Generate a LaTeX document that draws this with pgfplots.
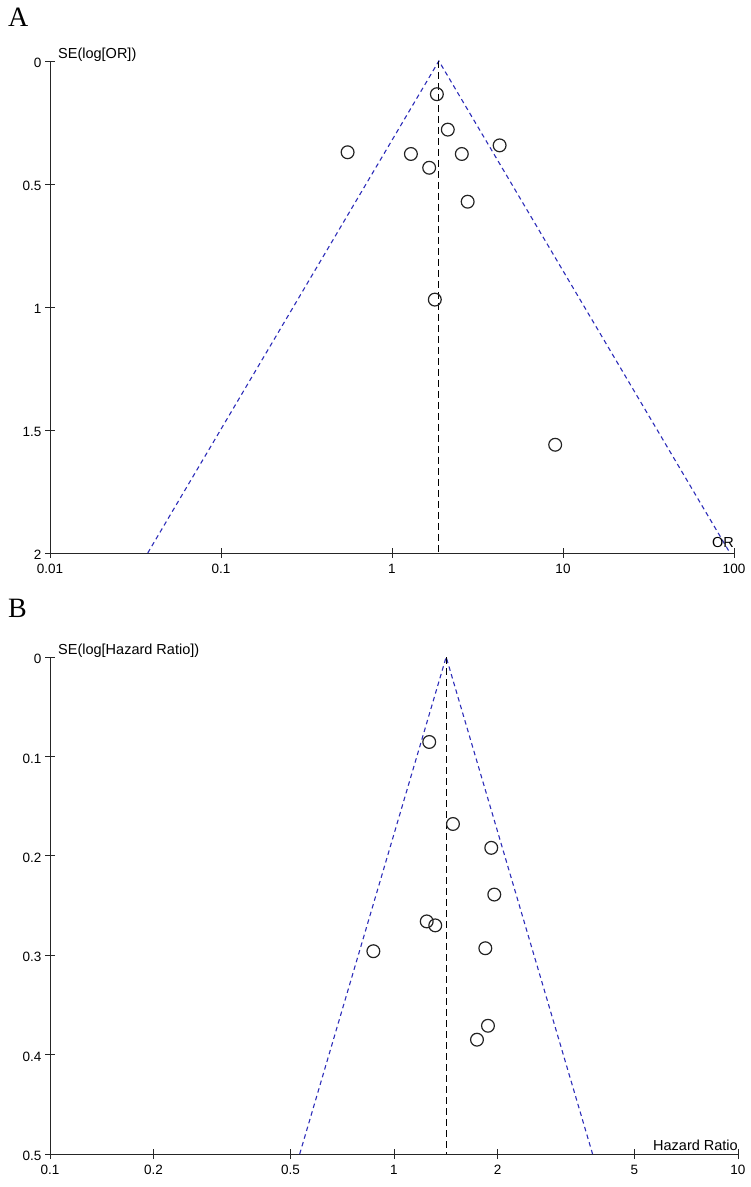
\documentclass[border=0pt]{standalone}
\usepackage{pgfplots}
\usepackage{pgfplotstable}
\pgfplotsset{compat=1.18}
\usepackage{fontspec}
\setmainfont{Liberation Sans}
\newfontfamily\seriffont{Liberation Serif}
\definecolor{funnel}{RGB}{45,45,185}
\definecolor{ptc}{RGB}{35,35,35}

\pgfplotstableread{
or se
1.83 0.135
2.12 0.279
0.55 0.371
1.29 0.378
2.56 0.378
4.26 0.343
1.65 0.434
2.77 0.572
1.78 0.970
9.00 1.560
}\dataA

\pgfplotstableread{
hr se
1.266 0.0855
1.484 0.168
1.918 0.192
1.957 0.239
1.245 0.266
1.318 0.270
0.871 0.296
1.843 0.293
1.876 0.371
1.743 0.385
}\dataB

\begin{document}
\begin{tikzpicture}[x=1pt,y=1pt]
\path[use as bounding box] (0,0) rectangle (751,1187);

\node[anchor=base west, inner sep=0, font=\seriffont\fontsize{28}{28}\selectfont] at (8,1160) {A};
\node[anchor=base west, inner sep=0, font=\seriffont\fontsize{28}{28}\selectfont] at (8,569) {B};

% Panel A
\begin{axis}[xmode=log, scale only axis, anchor=south west, clip=false,
  axis x line=bottom, axis y line=left,
  axis line style={-, line width=0.9pt, black!85},
  tick style={black!85, line width=0.9pt}, tick align=center, major tick length=10pt,
  xminorticks=false, yminorticks=false,
  tick label style={font=\fontsize{13.5}{14}\selectfont},
  xticklabel style={yshift=-3pt}, yticklabel style={yshift=-2pt},
  at={(50pt,634pt)}, width=684pt, height=492pt,
  xmin=0.01, xmax=100, ymin=-2, ymax=0,
  xtick={0.01,0.1,1,10,100}, xticklabels={0.01,0.1,1,10,100},
  ytick={-2,-1.5,-1,-0.5,0}, yticklabels={2,1.5,1,0.5,0}]
\addplot[funnel, line width=1.1pt, dash pattern=on 4.5pt off 3.5pt] coordinates {(0.03729,-2) (1.88,0) (94.75,-2)};
\addplot[black, line width=1.0pt, dash pattern=on 7pt off 4pt] coordinates {(1.88,0) (1.88,-2)};
\addplot[only marks, mark=o, mark size=6.4pt, mark options={draw=ptc, line width=1.2pt}]
  table[x=or, y expr=-\thisrow{se}] {\dataA};
\node[anchor=base west, inner sep=0, font=\fontsize{14.5}{15}\selectfont, xshift=8pt, yshift=2pt] at (axis cs:0.01,0) {SE(log[OR])};
\node[anchor=base east, inner sep=0, font=\fontsize{14.5}{15}\selectfont, yshift=5pt] at (axis cs:100,-2) {OR};
\end{axis}

% Panel B
\begin{axis}[xmode=log, scale only axis, anchor=south west, clip=false,
  axis x line=bottom, axis y line=left,
  axis line style={-, line width=0.9pt, black!85},
  tick style={black!85, line width=0.9pt}, tick align=center, major tick length=10pt,
  xminorticks=false, yminorticks=false,
  tick label style={font=\fontsize{13.5}{14}\selectfont},
  xticklabel style={yshift=-3pt}, yticklabel style={yshift=-2pt},
  at={(50pt,33pt)}, width=688pt, height=497pt,
  xmin=0.1, xmax=10, ymin=-0.5, ymax=0,
  xtick={0.1,0.2,0.5,1,2,5,10}, xticklabels={0.1,0.2,0.5,1,2,5,10},
  ytick={-0.5,-0.4,-0.3,-0.2,-0.1,0}, yticklabels={0.5,0.4,0.3,0.2,0.1,0}]
\addplot[funnel, line width=1.1pt, dash pattern=on 4.5pt off 3.5pt] coordinates {(0.532,-0.5) (1.418,0) (3.778,-0.5)};
\addplot[black, line width=1.0pt, dash pattern=on 7pt off 4pt] coordinates {(1.418,0) (1.418,-0.5)};
\addplot[only marks, mark=o, mark size=6.4pt, mark options={draw=ptc, line width=1.2pt}]
  table[x=hr, y expr=-\thisrow{se}] {\dataB};
\node[anchor=base west, inner sep=0, font=\fontsize{14.5}{15}\selectfont, xshift=8pt, yshift=3pt] at (axis cs:0.1,0) {SE(log[Hazard Ratio])};
\node[anchor=base east, inner sep=0, font=\fontsize{14.5}{15}\selectfont, yshift=4pt] at (axis cs:10,-0.5) {Hazard Ratio};
\end{axis}
\end{tikzpicture}
\end{document}
